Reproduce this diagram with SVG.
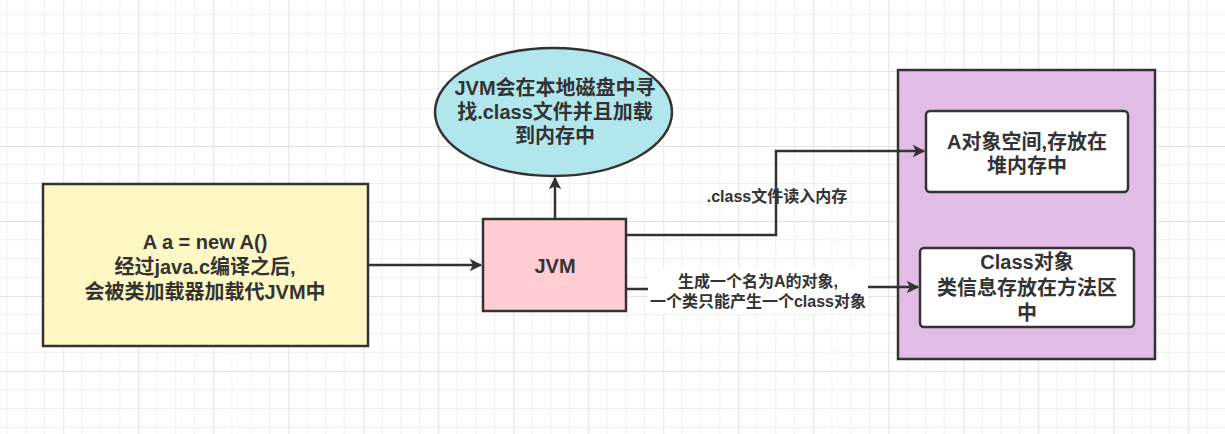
<svg xmlns="http://www.w3.org/2000/svg" width="1225" height="434" viewBox="0 0 1225 434">
<defs>
<pattern id="grid" x="63.3" y="71" width="75" height="75" patternUnits="userSpaceOnUse">
<rect width="75" height="75" fill="#ffffff"/>
<path d="M18.75 0V75M37.5 0V75M56.25 0V75M0 18.75H75M0 37.5H75M0 56.25H75" stroke="#f0f0f0" stroke-width="1" fill="none"/>
<path d="M0.5 0V75M0 0.5H75" stroke="#e3e3e3" stroke-width="1" fill="none"/>
</pattern>
<marker id="arr" viewBox="0 0 10 10" refX="9" refY="5" markerWidth="5" markerHeight="5" orient="auto" markerUnits="strokeWidth">
<path d="M0 0L10 5L0 10L2.5 5Z" fill="#333"/>
</marker>
<style>
.shape{stroke:#333;stroke-width:2.5}
.t{font-family:"Liberation Sans","Noto Sans CJK SC",sans-serif;font-weight:bold;font-size:20px;fill:#333;text-anchor:middle}
.s{font-family:"Liberation Sans","Noto Sans CJK SC",sans-serif;font-weight:bold;font-size:16px;fill:#333;text-anchor:middle}
.c{fill:none;stroke:#333;stroke-width:2.5}
</style>
</defs>
<rect width="1225" height="434" fill="url(#grid)"/>

<g id="source">
<rect class="shape" x="43" y="184" width="325" height="162" fill="#fff8c4"/>
<text class="t" x="205" y="249">A a = new A()</text>
<text class="t" x="205" y="274">经过java.c编译之后,</text>
<text class="t" x="205" y="299">会被类加载器加载代JVM中</text>
</g>

<g id="disk">
<ellipse class="shape" cx="553.5" cy="112" rx="118.5" ry="64" fill="#b1e6ed"/>
<text class="t" x="555" y="95">JVM会在本地磁盘中寻</text>
<text class="t" x="555" y="119">找.class文件并且加载</text>
<text class="t" x="555" y="143">到内存中</text>
</g>

<g id="jvm">
<rect class="shape" x="483" y="219" width="143" height="92" fill="#ffcdd3"/>
<text class="t" x="555" y="273">JVM</text>
</g>

<g id="memory">
<rect class="shape" x="898" y="70" width="257" height="289" fill="#e1bde6"/>
</g>

<g id="heap">
<rect class="shape" x="926" y="111" width="202" height="81" rx="4" fill="#ffffff"/>
<text class="t" x="1027" y="149">A对象空间,存放在</text>
<text class="t" x="1027" y="173">堆内存中</text>
</g>

<g id="classobj">
<rect class="shape" x="920" y="248" width="214" height="79" rx="4" fill="#ffffff"/>
<text class="t" x="1027" y="269">Class对象</text>
<text class="t" x="1027" y="295">类信息存放在方法区</text>
<text class="t" x="1027" y="320">中</text>
</g>

<g id="connectors">
<path class="c" d="M368 265H481" marker-end="url(#arr)"/>
<path class="c" d="M555 219V178" marker-end="url(#arr)"/>
<path class="c" d="M626 235H776V151H924" marker-end="url(#arr)"/>
<path class="c" d="M626 289H760V287H918" marker-end="url(#arr)"/>
<text class="s" x="777" y="202">.class文件读入内存</text>
<rect x="648" y="268" width="220" height="46" fill="#ffffff"/>
<text class="s" x="758" y="287">生成一个名为A的对象,</text>
<text class="s" x="758" y="307">一个类只能产生一个class对象</text>
</g>
</svg>
